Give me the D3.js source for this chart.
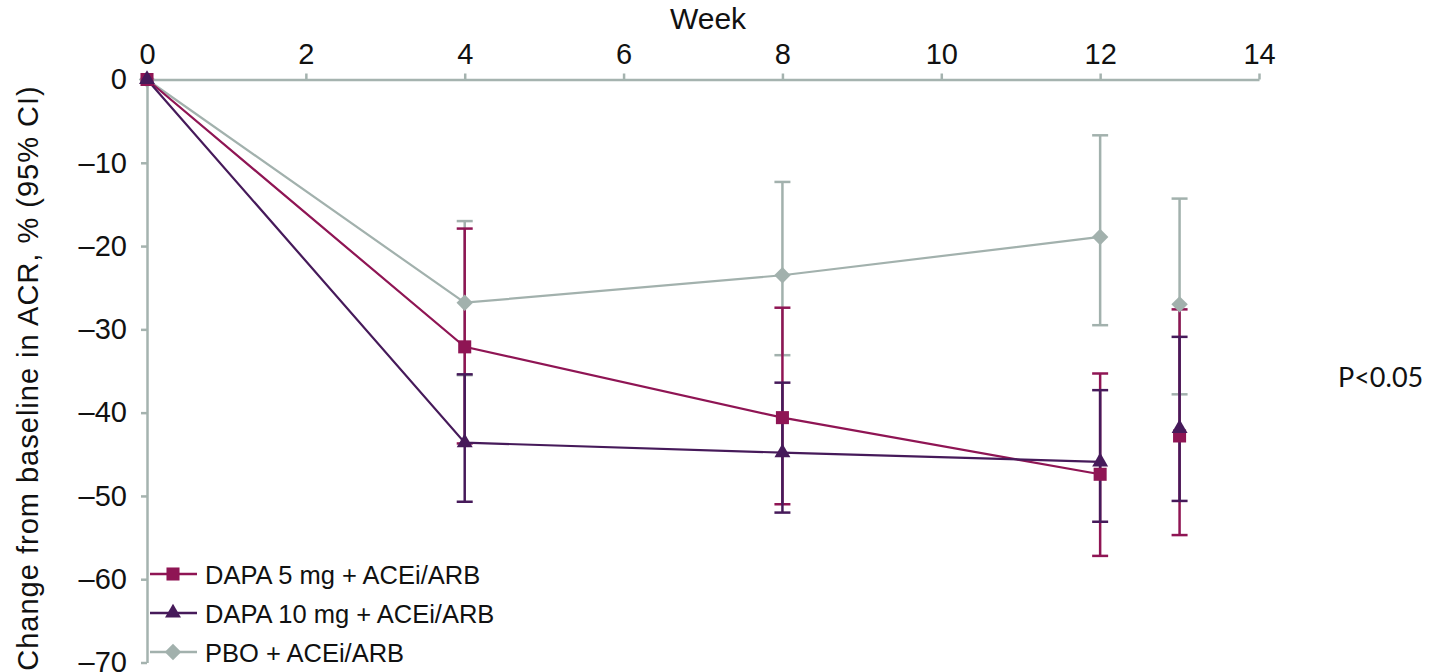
<!DOCTYPE html>
<html>
<head>
<meta charset="utf-8">
<script src="https://cdn.jsdelivr.net/npm/d3@7"></script>
<style>
  body { margin: 0; background: #fff; }
  svg { display: block; font-family: "Liberation Sans", Arial, sans-serif; }
</style>
</head>
<body>
<svg id="chart" width="1435" height="672"></svg>
<script>
// DATA

const weeks = [0, 4, 8, 12]
const locfWeek = 13
const xTicks = [0, 2, 4, 6, 8, 10, 12, 14]
const yTicks = [0, -10, -20, -30, -40, -50, -60, -70]

const seriesNames = ['PBO + ACEi/ARB', 'DAPA 5 mg + ACEi/ARB', 'DAPA 10 mg + ACEi/ARB']

// mean change at weeks 0,4,8,12 then the week 13 point
const pboMean = [0, -26.8, -23.5, -18.9, -27.0]
const pboLow = [0, -35.5, -33.1, -29.5, -37.8]
const pboHigh = [0, -17.0, -12.3, -6.7, -14.3]

const dapa5Mean = [0, -32.1, -40.6, -47.4, -42.8]
const dapa5Low = [0, -43.7, -51.0, -57.2, -54.7]
const dapa5High = [0, -17.9, -27.4, -35.3, -27.6]

const dapa10Mean = [0, -43.6, -44.8, -45.9, -41.9]
const dapa10Low = [0, -50.7, -52.0, -53.1, -50.6]
const dapa10High = [0, -35.4, -36.4, -37.3, -30.9]

const pValueLabel = 'P<0.05'

// SCALES

const svg = d3.select('#chart')
const colors = ['#a2b1ad', '#8f1554', '#461a5a']
const axisColor = '#a5b3af'

const x = d3.scaleLinear().domain([0, 14]).range([147, 1259])
const y = d3.scaleLinear().domain([0, -70]).range([79.5, 662.5])

const xs = [...weeks, locfWeek]
// the diamond is a square turned by 45 degrees, so it is as wide as it is tall
const series = [
    { name: seriesNames[0], mean: pboMean, low: pboLow, high: pboHigh, shape: d3.symbolSquare, size: 135, rot: 45 },
    { name: seriesNames[1], mean: dapa5Mean, low: dapa5Low, high: dapa5High, shape: d3.symbolSquare, size: 170, rot: 0 },
    { name: seriesNames[2], mean: dapa10Mean, low: dapa10Low, high: dapa10High, shape: d3.symbolTriangle, size: 110, rot: 0 }
]
series.forEach((s, i) => s.color = colors[i])

// AXES

const xAxis = d3.axisTop(x).tickValues(xTicks).tickSize(6).tickSizeOuter(0).tickPadding(10)
const xg = svg.append('g').attr('transform', `translate(0,${y(0)})`).call(xAxis)
xg.selectAll('text').attr('font-size', 29).attr('fill', '#111')

const yAxis = d3.axisLeft(y).tickValues(yTicks).tickSize(6).tickSizeOuter(0).tickPadding(14)
    .tickFormat(d => d === 0 ? '0' : '\u2013' + Math.abs(d))
const yg = svg.append('g').attr('transform', `translate(${x(0)},0)`).call(yAxis)
yg.selectAll('text').attr('font-size', 29).attr('fill', '#111')

svg.selectAll('.domain, .tick line').attr('stroke', axisColor).attr('stroke-width', 2.5)

svg.append('text')
    .attr('x', 708).attr('y', 29)
    .attr('text-anchor', 'middle')
    .attr('font-size', 30)
    .attr('fill', '#111')
    .text('Week')

svg.append('text')
    .attr('transform', `translate(38,${378}) rotate(-90)`)
    .attr('text-anchor', 'middle')
    .attr('font-size', 29)
    .attr('letter-spacing', 1)
    .attr('fill', '#111')
    .text('Change from baseline in ACR, % (95% CI)')

svg.append('text')
    .attr('x', 1338).attr('y', 387)
    .attr('font-family', 'Lato, "Open Sans", sans-serif')
    .attr('font-size', 27)
    .attr('fill', '#111')
    .text(pValueLabel)

// ERROR BARS, LINES AND MARKERS

const line = d3.line().x((d, i) => x(weeks[i])).y(d => y(d))

for (const s of series) {
    const g = svg.append('g')
    const pts = xs.map((w, i) => ({ w, m: s.mean[i], lo: s.low[i], hi: s.high[i] })).filter(d => d.w !== 0)

    g.selectAll('.bar').data(pts).join('line')
        .attr('x1', d => x(d.w)).attr('x2', d => x(d.w))
        .attr('y1', d => y(d.lo)).attr('y2', d => y(d.hi))
        .attr('stroke', s.color).attr('stroke-width', 2.5)

    for (const key of ['lo', 'hi']) {
        g.selectAll('.cap-' + key).data(pts).join('line')
            .attr('x1', d => x(d.w) - 8).attr('x2', d => x(d.w) + 8)
            .attr('y1', d => y(d[key])).attr('y2', d => y(d[key]))
            .attr('stroke', s.color).attr('stroke-width', 2.5)
    }

    g.append('path')
        .datum(s.mean.slice(0, weeks.length))
        .attr('d', line)
        .attr('fill', 'none')
        .attr('stroke', s.color)
        .attr('stroke-width', 2.2)
}

for (const s of series) {
    svg.append('g').selectAll('path').data(xs.map((w, i) => [w, s.mean[i]])).join('path')
        .attr('transform', d => `translate(${x(d[0])},${y(d[1])}) rotate(${s.rot})`)
        .attr('d', d3.symbol(s.shape, s.size))
        .attr('fill', s.color)
}

// LEGEND

const legendOrder = [series[1], series[2], series[0]]
const legend = svg.append('g')
legendOrder.forEach((s, i) => {
    const ly = 574 + i * 39
    legend.append('line')
        .attr('x1', 150).attr('x2', 197).attr('y1', ly).attr('y2', ly)
        .attr('stroke', s.color).attr('stroke-width', 2.5)
    legend.append('path')
        .attr('transform', `translate(173,${ly}) rotate(${s.rot})`)
        .attr('d', d3.symbol(s.shape, s.size))
        .attr('fill', s.color)
    legend.append('text')
        .attr('x', 205).attr('y', ly + 10)
        .attr('font-size', 25.5)
        .attr('fill', '#111')
        .text(s.name)
})
</script>
</body>
</html>
